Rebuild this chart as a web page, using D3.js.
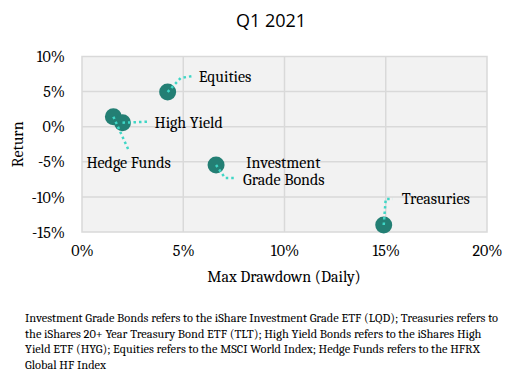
<!DOCTYPE html>
<html>
<head>
<meta charset="utf-8">
<script src="https://cdn.jsdelivr.net/npm/d3@7"></script>
<style>
  body { margin: 0; background: #fff; }
  svg { display: block; }
</style>
</head>
<body>
<svg id="chart" width="519" height="371"></svg>
<script>
// data
const names     = ["Equities", "Hedge Funds", "High Yield", "Investment Grade Bonds", "Treasuries"];
const drawdowns = [4.23, 1.55, 2.0, 6.62, 14.9];
const returns   = [4.94, 1.42, 0.57, -5.46, -14.0];
const xTicks    = [0, 5, 10, 15, 20];
const yTicks    = [10, 5, 0, -5, -10, -15];
const footnote  = [
  "Investment Grade Bonds refers to the iShare Investment Grade ETF (LQD); Treasuries refers to",
  "the iShares 20+ Year Treasury Bond ETF (TLT); High Yield Bonds refers to the iShares High",
  "Yield ETF (HYG); Equities refers to the MSCI World Index; Hedge Funds refers to the HFRX",
  "Global HF Index"
];

// label placement: leader path offsets (dx,dy from point) and label lines
const labels = [
  { lead: [[0,0],[13,-14],[25,-16]], at: [31,-15], lines: ["Equities"] },
  { lead: [[0,0],[15,33]],           at: [-27,46], lines: ["Hedge Funds"] },
  { lead: [[0,0],[25,-1]],           at: [32,0],   lines: ["High Yield"] },
  { lead: [[0,0],[9,13],[19,13]],    at: [30,6],   lines: ["Investment", "Grade Bonds"] },
  { lead: [[0,0],[2,-26],[9,-26]],   at: [18,-26], lines: ["Treasuries"] }
];

const serif = "Cambria, 'Liberation Serif', serif";
const svg = d3.select("#chart");
const x = d3.scaleLinear().domain([0, 20]).range([82, 487]);
const y = d3.scaleLinear().domain([-15, 10]).range([232, 56.5]);

svg.append("text")
  .attr("x", 271).attr("y", 27)
  .attr("text-anchor", "middle")
  .style("font-family", "'Open Sans', sans-serif")
  .style("font-size", "18px")
  .attr("fill", "#000")
  .text("Q1 2021");

// plot area
svg.append("rect")
  .attr("x", x(0)).attr("y", y(10))
  .attr("width", x(20) - x(0)).attr("height", y(-15) - y(10))
  .attr("fill", "#f2f2f2")
  .attr("stroke", "#d9d9d9").attr("stroke-width", 1.5);

svg.append("g").selectAll("line").data(xTicks.slice(1, -1)).join("line")
  .attr("x1", d => x(d)).attr("x2", d => x(d))
  .attr("y1", y(10)).attr("y2", y(-15))
  .attr("stroke", "#d9d9d9").attr("stroke-width", 1.5);
svg.append("g").selectAll("line").data(yTicks.slice(1, -1)).join("line")
  .attr("y1", d => y(d)).attr("y2", d => y(d))
  .attr("x1", x(0)).attr("x2", x(20))
  .attr("stroke", "#d9d9d9").attr("stroke-width", 1.5);

// axes (labels only)
const xAxis = svg.append("g")
  .attr("transform", `translate(0,${y(-15) + 10})`)
  .call(d3.axisBottom(x).tickValues(xTicks).tickSize(0).tickFormat(d => d + "%"));
const yAxis = svg.append("g")
  .attr("transform", `translate(${x(0) - 14},0)`)
  .call(d3.axisLeft(y).tickValues(yTicks).tickSize(0).tickFormat(d => d + "%"));
[xAxis, yAxis].forEach(a => {
  a.select(".domain").remove();
  a.selectAll("text")
    .style("font-family", serif)
    .style("font-size", "16px")
    .attr("fill", "#000");
});

svg.append("text")
  .attr("x", 284).attr("y", 282)
  .attr("text-anchor", "middle")
  .style("font-family", serif).style("font-size", "16px")
  .text("Max Drawdown (Daily)");
svg.append("text")
  .attr("transform", `translate(23,${(y(10) + y(-15)) / 2}) rotate(-90)`)
  .attr("text-anchor", "middle")
  .style("font-family", serif).style("font-size", "16px")
  .text("Return");

// points
const pts = names.map((n, i) => ({ name: n, px: x(drawdowns[i]), py: y(returns[i]), lab: labels[i] }));

svg.append("g").selectAll("circle").data(pts).join("circle")
  .attr("cx", d => d.px).attr("cy", d => d.py).attr("r", 8.5)
  .attr("fill", "#237f74");

// leader lines
svg.append("g").selectAll("path").data(pts).join("path")
  .attr("d", d => d3.line()(d.lab.lead.map(p => [d.px + p[0], d.py + p[1]])))
  .attr("fill", "none")
  .attr("stroke", "#3fd6c6")
  .attr("stroke-width", 2.5)
  .attr("stroke-dasharray", "2.5,3");

// data labels
const lg = svg.append("g").selectAll("text").data(pts).join("text")
  .attr("x", d => d.px + d.lab.at[0])
  .attr("y", d => d.py + d.lab.at[1] - (d.lab.lines.length - 1) * 8.5)
  .attr("dominant-baseline", "central")
  .style("font-family", serif).style("font-size", "16px")
  .attr("fill", "#000");
lg.selectAll("tspan").data(d => d.lab.lines.map((l, i) => ({ l, i, x: d.px + d.lab.at[0] })))
  .join("tspan")
  .attr("x", d => d.x - (d.i ? 3 : 0))
  .attr("dy", d => d.i ? 17 : 0)
  .text(d => d.l);

// footnote
svg.append("g").selectAll("text").data(footnote).join("text")
  .attr("x", 25).attr("y", (d, i) => 322 + i * 15.5)
  .style("font-family", serif).style("font-size", "12.4px")
  .attr("fill", "#000")
  .text(d => d);
</script>
</body>
</html>
